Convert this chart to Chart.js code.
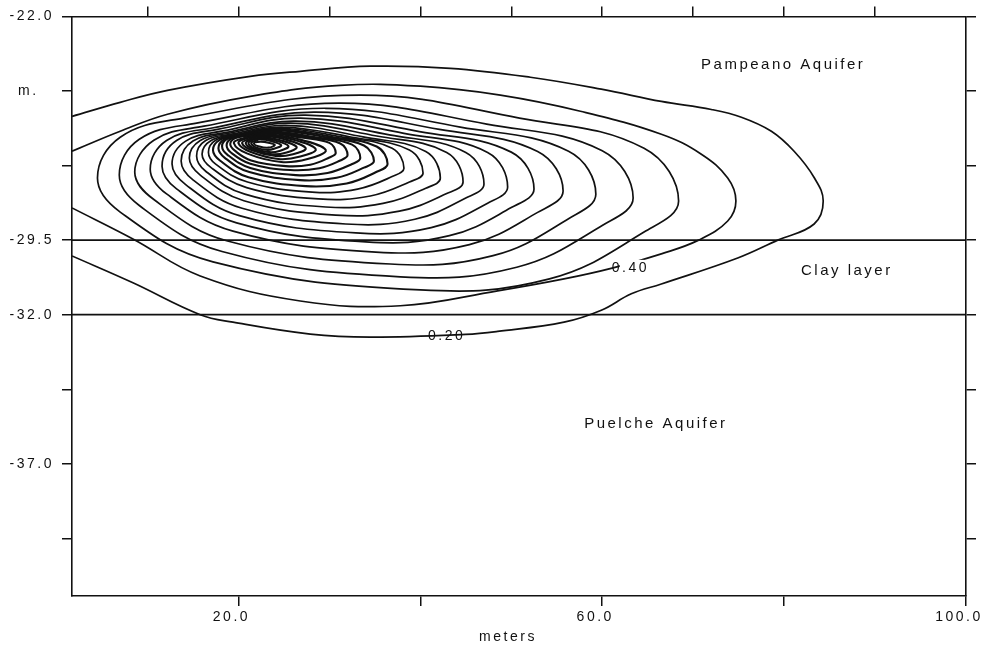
<!DOCTYPE html>
<html>
<head>
<meta charset="utf-8">
<script src="https://cdn.jsdelivr.net/npm/chart.js@4.4.1/dist/chart.umd.min.js"></script>
<style>
  html, body { margin: 0; padding: 0; background: #fff; }
  canvas { display: block; }
</style>
</head>
<body>
<canvas id="plume-chart" width="998" height="649"></canvas>
<script>
const FONT = '"Liberation Sans", Arial, sans-serif';

// axes (meters)
const xMin = 1.7, xMax = 100;
const yMin = -41.43, yMax = -22;
const xTicks = [20, 40, 60, 80, 100];
const xTickText = ['20.0', '', '60.0', '', '100.0'];
const xTopTicks = [10, 20, 30, 40, 50, 60, 70, 80, 90];
const yTicks = [-22, -24.5, -27, -29.5, -32, -34.5, -37, -39.5];
const yTickText = ['-22.0', '', '', '-29.5', '-32.0', '', '-37.0', ''];

// clay layer limits
const clayTop = [[1.7, -29.5], [100, -29.5]];
const clayBottom = [[1.7, -32], [100, -32]];

// open contours (cut by the left border)
const c020 = [[1.7,-25.35],[7.0,-24.88],[12.2,-24.48],[21.3,-24.01],[26.8,-23.84],[34.5,-23.67],[43.3,-23.74],[52.1,-24.04],[59.9,-24.44],[66.5,-24.85],[72.0,-25.12],[75.3,-25.38],[78.6,-25.85],[81.1,-26.52],[83.3,-27.4],[84.3,-28.19],[83.3,-28.96],[79.3,-29.5],[74.9,-30.10],[66.5,-30.97],[63.2,-31.3],[59.9,-31.85],[55.8,-32.25],[48.5,-32.56],[45.0,-32.66],[34.5,-32.75],[27.9,-32.65],[19.4,-32.25],[15.8,-32.0],[8.4,-30.93],[1.7,-30.03]];
const c040 = [[1.7,-26.52],[7.0,-25.85],[12.2,-25.28],[21.3,-24.68],[31.2,-24.31],[40.0,-24.34],[48.8,-24.64],[57.6,-25.18],[66.5,-25.95],[70.9,-26.62],[73.8,-27.42],[74.7,-28.19],[73.8,-28.86],[70.6,-29.5],[66.5,-29.96],[61.2,-30.43],[55.8,-30.80],[48.5,-31.20],[37.8,-31.70],[26.8,-31.54],[15.8,-30.70],[8.4,-29.46],[1.7,-28.42]];

// closed contours, outer to inner
const c03 = [[4.5,-27.42],[7.0,-26.05],[14.0,-25.41],[33.4,-24.64],[50.9,-25.41],[64.6,-26.42],[68.4,-28.19],[64.6,-29.23],[54.2,-30.80],[40.0,-31.17],[17.2,-30.23],[7.0,-28.56]];
const c04 = [[6.9,-27.32],[9.1,-26.12],[15.4,-25.58],[31.2,-24.91],[47.3,-25.61],[60.0,-26.50],[63.4,-28.09],[60.0,-29.01],[50.6,-30.41],[37.8,-30.73],[18.2,-29.88],[9.1,-28.34]];
const c05 = [[8.6,-27.22],[10.7,-26.15],[16.2,-25.68],[29.6,-25.08],[44.4,-25.71],[56.3,-26.52],[59.3,-27.96],[56.3,-28.78],[48.0,-30.02],[36.7,-30.30],[18.8,-29.53],[10.7,-28.14]];
const c06 = [[10.3,-27.12],[12.1,-26.16],[17.1,-25.74],[28.5,-25.21],[42.1,-25.79],[52.9,-26.53],[55.7,-27.85],[52.9,-28.57],[45.4,-29.65],[35.1,-29.90],[19.4,-29.20],[12.1,-27.95]];
const c07 = [[11.6,-27.02],[13.2,-26.16],[17.7,-25.79],[27.4,-25.31],[39.9,-25.86],[50.0,-26.55],[52.5,-27.79],[50.0,-28.41],[43.2,-29.35],[34.0,-29.56],[19.8,-28.92],[13.2,-27.78]];
const c08 = [[12.7,-26.95],[14.2,-26.18],[18.3,-25.84],[26.8,-25.41],[38.2,-25.92],[47.4,-26.56],[49.6,-27.72],[47.4,-28.26],[41.2,-29.08],[32.9,-29.26],[20.1,-28.68],[14.2,-27.64]];
const c09 = [[13.7,-26.85],[15.0,-26.18],[18.7,-25.89],[26.3,-25.51],[36.6,-25.97],[45.0,-26.56],[47.0,-27.62],[45.0,-28.09],[39.4,-28.80],[31.8,-28.96],[20.4,-28.43],[15.0,-27.48]];
const c10 = [[14.6,-26.75],[15.8,-26.16],[19.1,-25.91],[25.7,-25.58],[35.2,-26.01],[42.9,-26.56],[44.7,-27.55],[42.9,-27.94],[37.7,-28.53],[30.7,-28.66],[20.6,-28.18],[15.8,-27.32]];
const c11 = [[15.4,-26.68],[16.4,-26.16],[19.4,-25.94],[25.2,-25.65],[33.7,-26.04],[40.6,-26.53],[42.2,-27.42],[40.6,-27.76],[35.9,-28.27],[29.6,-28.39],[20.7,-27.96],[16.4,-27.19]];
const c12 = [[16.0,-26.62],[17.0,-26.16],[19.7,-25.96],[24.8,-25.71],[32.5,-26.05],[38.8,-26.48],[40.3,-27.25],[38.8,-27.55],[34.5,-28.02],[28.8,-28.12],[20.9,-27.74],[17.0,-27.07]];
const c13 = [[16.7,-26.55],[17.5,-26.15],[19.9,-25.97],[24.5,-25.75],[31.3,-26.04],[36.9,-26.42],[38.2,-27.09],[36.9,-27.37],[33.1,-27.79],[28.1,-27.89],[21.0,-27.55],[17.5,-26.95]];
const c14 = [[17.2,-26.48],[18.0,-26.13],[20.1,-25.98],[24.2,-25.78],[30.3,-26.04],[35.2,-26.36],[36.4,-26.95],[35.2,-27.21],[31.9,-27.60],[27.4,-27.69],[21.1,-27.39],[18.0,-26.84]];
const c15 = [[17.8,-26.42],[18.5,-26.11],[20.3,-25.98],[23.8,-25.81],[29.4,-26.04],[33.8,-26.33],[34.9,-26.85],[33.8,-27.07],[30.8,-27.41],[26.8,-27.49],[21.2,-27.22],[18.5,-26.74]];
const c16 = [[18.2,-26.35],[18.8,-26.10],[20.5,-25.99],[23.5,-25.85],[28.5,-26.05],[32.5,-26.30],[33.4,-26.75],[32.5,-26.95],[29.8,-27.25],[26.3,-27.32],[21.3,-27.08],[18.8,-26.64]];
const c17 = [[18.7,-26.32],[19.2,-26.10],[20.7,-26.00],[23.3,-25.88],[27.6,-26.05],[31.2,-26.26],[32.0,-26.65],[31.2,-26.83],[28.9,-27.09],[25.7,-27.15],[21.3,-26.94],[19.2,-26.57]];
const c18 = [[19.1,-26.28],[19.6,-26.09],[20.8,-26.01],[23.1,-25.91],[26.9,-26.06],[30.0,-26.24],[30.7,-26.58],[30.0,-26.73],[27.9,-26.97],[25.2,-27.02],[21.4,-26.83],[19.6,-26.50]];
// dense core
const r1 = [[19.5,-26.25],[20.5,-26.09],[22.8,-25.95],[26.5,-26.11],[29.6,-26.48],[27.6,-26.78],[24.7,-26.88],[21.0,-26.60]];
const r2 = [[20.0,-26.25],[20.8,-26.10],[22.7,-25.98],[25.9,-26.12],[28.5,-26.45],[26.8,-26.70],[24.4,-26.78],[21.3,-26.54]];
const r3 = [[20.4,-26.25],[21.1,-26.12],[22.6,-26.01],[25.2,-26.13],[27.4,-26.42],[26.0,-26.62],[24.1,-26.68],[21.5,-26.49]];
const r4 = [[20.8,-26.25],[21.3,-26.14],[22.5,-26.05],[24.6,-26.15],[26.4,-26.38],[25.3,-26.56],[23.7,-26.62],[21.6,-26.45]];
const r5 = [[21.1,-26.25],[21.5,-26.16],[22.4,-26.08],[24.0,-26.16],[25.5,-26.35],[24.6,-26.50],[23.4,-26.55],[21.7,-26.42]];
const r6 = [[21.4,-26.25],[21.8,-26.18],[22.4,-26.12],[23.6,-26.18],[24.7,-26.32],[24.0,-26.43],[23.2,-26.48],[21.9,-26.39]];
const r7 = [[21.7,-26.26],[22.4,-26.20],[23.4,-26.24],[24.0,-26.31],[23.3,-26.40],[22.3,-26.36]];

const outerRings = [c03, c04, c05, c06, c07, c08, c09, c10, c11, c12, c13];
const coreRings = [c14, c15, c16, c17, c18, r1, r2, r3, r4, r5, r6, r7];

// text inside the plot
const areaLabels = [
  { text: 'Pampeano Aquifer', x: 79.9, y: -23.61 },
  { text: 'Clay layer', x: 86.9, y: -30.53 },
  { text: 'Puelche Aquifer', x: 65.9, y: -35.65 }
];
const contourLabels = [
  { text: '0.40', x: 63.1, y: -30.43, mask: true },
  { text: '0.20', x: 42.9, y: -32.72, mask: false }
];

const toXY = pts => pts.map(p => ({ x: p[0], y: p[1] }));

const lineSet = (pts, closed, tension, width) => ({
  data: toXY(pts),
  closed,
  showLine: true,
  borderColor: '#111',
  borderWidth: width || 1.7,
  pointRadius: 0,
  tension,
  fill: false
});

const datasets = [
  lineSet(clayTop, false, 0),
  lineSet(clayBottom, false, 0),
  lineSet(c020, false, 0.4),
  lineSet(c040, false, 0.4),
  ...outerRings.map(c => lineSet(c, true, 0.4)),
  ...coreRings.map(c => lineSet(c, true, 0.4, 2.1))
];

const axisLook = {
  grid: { drawOnChartArea: false, color: '#111', tickLength: 10, lineWidth: 1.5 },
  border: { color: '#111', width: 1.6 }
};

// close the contour rings with a smooth joint
const closeRings = {
  id: 'closeRings',
  afterDatasetUpdate(chart, args) {
    const ds = chart.data.datasets[args.index];
    const line = args.meta.dataset;
    if (ds.closed && line) {
      line._loop = true;
      line._fullLoop = true;
    }
  }
};

const textPlugin = {
  id: 'plumeText',
  beforeDraw(chart) {
    chart.ctx.letterSpacing = '2.5px';
  },
  afterDatasetsDraw(chart) {
    const { ctx, scales: { x, y } } = chart;
    ctx.save();
    ctx.letterSpacing = '2.5px';
    ctx.textAlign = 'center';
    ctx.textBaseline = 'middle';
    ctx.font = '15px ' + FONT;
    ctx.fillStyle = '#111';
    areaLabels.forEach(l => ctx.fillText(l.text, x.getPixelForValue(l.x), y.getPixelForValue(l.y)));

    ctx.font = '14px ' + FONT;
    contourLabels.forEach(l => {
      const px = x.getPixelForValue(l.x);
      const py = y.getPixelForValue(l.y);
      const w = ctx.measureText(l.text).width;
      if (l.mask) {
        ctx.fillStyle = '#fff';
        ctx.fillRect(px - w / 2 + 8, py - 8, w - 6, 16);
      }
      ctx.fillStyle = '#111';
      ctx.fillText(l.text, px, py);
    });
    ctx.restore();
  },
  afterDraw(chart) {
    const { ctx, chartArea, scales: { y } } = chart;
    ctx.save();
    ctx.letterSpacing = '2.5px';
    ctx.fillStyle = '#111';
    ctx.font = '14px ' + FONT;
    ctx.textBaseline = 'middle';
    ctx.textAlign = 'left';
    ctx.fillText('m.', 18, y.getPixelForValue(-24.5));
    ctx.textAlign = 'center';
    ctx.fillText('meters', chartArea.left + 436, chartArea.bottom + 41);
    ctx.restore();
  }
};

new Chart(document.getElementById('plume-chart'), {
  type: 'scatter',
  data: { datasets },
  options: {
    responsive: false,
    animation: false,
    devicePixelRatio: 1,
    layout: { padding: 0 },
    plugins: { legend: { display: false }, tooltip: { enabled: false } },
    scales: {
      x: {
        type: 'linear', position: 'bottom', min: xMin, max: xMax,
        afterBuildTicks: s => { s.ticks = xTicks.map(v => ({ value: v })); },
        afterFit: s => { s.height = 53; },
        ticks: {
          autoSkip: false, maxRotation: 0, padding: 3, labelOffset: -7,
          color: '#111', font: { family: FONT, size: 14 },
          callback: (v, i) => xTickText[i]
        },
        ...axisLook
      },
      x2: {
        type: 'linear', position: 'top', min: xMin, max: xMax,
        afterBuildTicks: s => { s.ticks = xTopTicks.map(v => ({ value: v })); },
        afterFit: s => { s.height = 15; },
        ticks: { display: false },
        ...axisLook
      },
      y: {
        type: 'linear', position: 'left', min: yMin, max: yMax,
        afterBuildTicks: s => { s.ticks = yTicks.map(v => ({ value: v })); },
        afterFit: s => { s.width = 72; },
        ticks: {
          autoSkip: false, padding: 8,
          color: '#111', font: { family: FONT, size: 14 },
          callback: (v, i) => yTickText[i]
        },
        ...axisLook
      },
      y2: {
        type: 'linear', position: 'right', min: yMin, max: yMax,
        afterBuildTicks: s => { s.ticks = yTicks.map(v => ({ value: v })); },
        afterFit: s => { s.width = 32; },
        ticks: { display: false },
        ...axisLook
      }
    }
  },
  plugins: [closeRings, textPlugin]
});
</script>
</body>
</html>
